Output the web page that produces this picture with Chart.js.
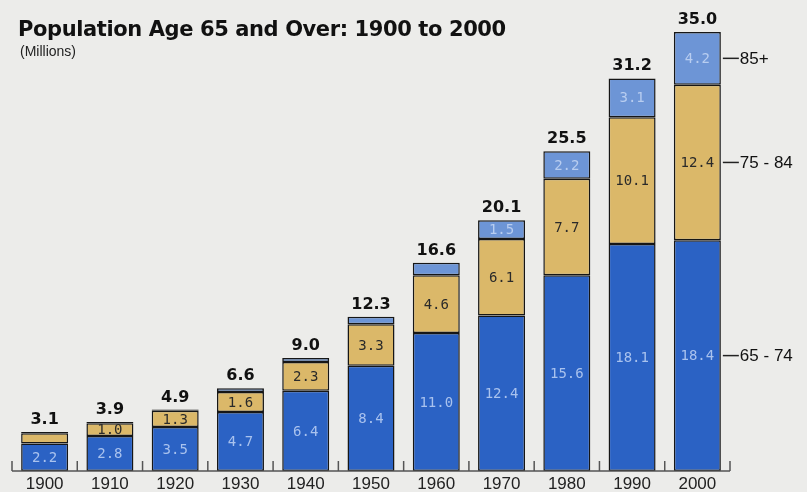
<!DOCTYPE html>
<html><head><meta charset="utf-8">
<script src="https://cdn.jsdelivr.net/npm/chart.js@4"></script>
<style>
html,body{margin:0;padding:0;background:#ececea;}
#wrap{position:relative;width:807px;height:492px;}
#title{position:absolute;left:18px;top:17px;font:bold 21px "DejaVu Sans",sans-serif;color:#111;letter-spacing:-0.4px;white-space:nowrap;}
#sub{position:absolute;left:20px;top:43px;font:14px "Liberation Sans",Arial,sans-serif;color:#222;}
</style></head>
<body><div id="wrap"><canvas id="c" width="807" height="492"></canvas>
<div id="title">Population Age 65 and Over: 1900 to 2000</div>
<div id="sub">(Millions)</div></div>
<script>
const years = ['1900','1910','1920','1930','1940','1950','1960','1970','1980','1990','2000'];
const age65to74 = [2.2, 2.8, 3.5, 4.7, 6.4, 8.4, 11.0, 12.4, 15.6, 18.1, 18.4];
const age75to84 = [0.8, 1.0, 1.3, 1.6, 2.3, 3.3, 4.6, 6.1, 7.7, 10.1, 12.4];
const age85plus = [0.1, 0.1, 0.1, 0.3, 0.3, 0.6, 1.0, 1.5, 2.2, 3.1, 4.2];
const totals = ['3.1','3.9','4.9','6.6','9.0','12.3','16.6','20.1','25.5','31.2','35.0'];
const label65 = ['2.2','2.8','3.5','4.7','6.4','8.4','11.0','12.4','15.6','18.1','18.4'];
const label75 = ['','1.0','1.3','1.6','2.3','3.3','4.6','6.1','7.7','10.1','12.4'];
const label85 = ['','','','','','','','1.5','2.2','3.1','4.2'];
const seriesNames = ['65 - 74','75 - 84','85+'];

const labelsPlugin = {
  id:'labels',
  afterDatasetsDraw(chart){
    const ctx = chart.ctx, x = chart.scales.x;
    const area = chart.chartArea;
    ctx.save();
    ctx.strokeStyle = '#555'; ctx.lineWidth = 1.5;
    const step = x.getPixelForValue(1) - x.getPixelForValue(0);
    const left = x.getPixelForValue(0) - step/2;
    const right = x.getPixelForValue(years.length-1) + step/2;
    ctx.beginPath(); ctx.moveTo(left, area.bottom); ctx.lineTo(right, area.bottom); ctx.stroke();
    for (let i=0;i<=years.length;i++){
      const px = left + i*step;
      ctx.beginPath(); ctx.moveTo(px, area.bottom); ctx.lineTo(px, area.bottom-10); ctx.stroke();
    }
    const segLabels = [label65, label75, label85];
    const colors = ['#a9c2ee','#2a2a2a','#b8cdf0'];
    ctx.font = '14px "DejaVu Sans Mono", monospace';
    ctx.textAlign = 'center'; ctx.textBaseline = 'middle';
    for (let d=0; d<3; d++){
      const meta = chart.getDatasetMeta(d);
      meta.data.forEach((bar,i)=>{
        const t = segLabels[d][i];
        if(!t) return;
        ctx.fillStyle = colors[d];
        ctx.fillText(t, bar.x, (bar.y + bar.base)/2 + 1);
      });
    }
    ctx.font = 'bold 16px "DejaVu Sans", sans-serif';
    ctx.fillStyle = '#111'; ctx.textBaseline = 'alphabetic';
    const top = chart.getDatasetMeta(2);
    top.data.forEach((bar,i)=>{
      ctx.fillText(totals[i], bar.x, bar.y - 8);
    });
    ctx.font = '17px "Liberation Sans", Arial, sans-serif';
    ctx.textAlign = 'left'; ctx.textBaseline = 'middle';
    ctx.strokeStyle = '#222'; ctx.lineWidth = 1.5; ctx.fillStyle = '#111';
    const last = years.length-1;
    for (let d=0; d<3; d++){
      const bar = chart.getDatasetMeta(d).data[last];
      const cy = (bar.y + bar.base)/2;
      const bx = bar.x + bar.width/2;
      ctx.beginPath(); ctx.moveTo(bx+2, cy); ctx.lineTo(bx+18, cy); ctx.stroke();
      ctx.fillText(seriesNames[d], bx+19, cy+1);
    }
    ctx.restore();
  }
};

new Chart(document.getElementById('c'), {
  type:'bar',
  data:{
    labels: years,
    datasets:[
      {label:seriesNames[0], data:age65to74, backgroundColor:'#2b62c4', borderColor:'#161616', borderWidth:1.5, borderSkipped:false},
      {label:seriesNames[1], data:age75to84, backgroundColor:'#dbb869', borderColor:'#161616', borderWidth:1.5, borderSkipped:false},
      {label:seriesNames[2], data:age85plus, backgroundColor:'#6d95d6', borderColor:'#161616', borderWidth:1.5, borderSkipped:false}
    ]
  },
  options:{
    responsive:false, animation:false,
    layout:{padding:{left:12, right:77, top:32, bottom:0}},
    plugins:{legend:{display:false}, tooltip:{enabled:false}},
    datasets:{bar:{barPercentage:0.72, categoryPercentage:1.0}},
    scales:{
      x:{stacked:true, grid:{display:false, drawTicks:false, tickLength:0}, border:{display:false},
         ticks:{color:'#222', font:{size:17, family:'"Liberation Sans", Arial, sans-serif', lineHeight:1}, padding:5, maxRotation:0},
         afterFit(s){ s.height = 21; }},
      y:{stacked:true, display:false, min:0, max:35}
    }
  },
  plugins:[labelsPlugin]
});
</script></body></html>
